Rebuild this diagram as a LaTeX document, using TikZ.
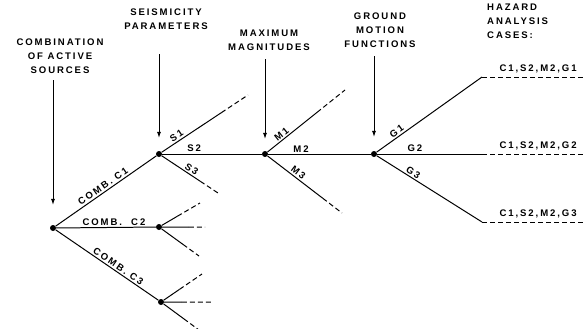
\documentclass[tikz,border=0pt]{standalone}
\usepackage{fontspec}
\newfontfamily\treefont[LetterSpace=20]{Liberation Sans}
\usetikzlibrary{arrows.meta, calc}

\begin{document}
\begin{tikzpicture}[
    x=1bp, y=-1bp,
    every node/.style={font=\treefont\bfseries\fontsize{9.6}{14}\selectfont},
    dot/.style={circle, fill, inner sep=0pt, minimum size=6bp},
    branch/.style={line width=1pt},
    open/.style={line width=1pt, dash pattern=on 5bp off 3bp},
    arrow/.style={-{Latex[length=6bp,width=4bp]}, line width=0.7pt},
    head/.style={align=center, inner sep=0pt},
    lbl/.style={sloped, above, inner sep=1.5bp}
]
\useasboundingbox (0,0) rectangle (584,328);

% headings
\node[head] (combhd) at (60,56) {COMBINATION\\OF ACTIVE\\SOURCES};
\node[head] (seishd) at (166,19) {SEISMICITY\\PARAMETERS};
\node[head] (maxhd) at (269,40) {MAXIMUM\\MAGNITUDES};
\node[head] (gmhd) at (380,30) {GROUND\\MOTION\\FUNCTIONS};
\node[head, align=left, anchor=west] (hazhd) at (487,21) {HAZARD\\ANALYSIS\\CASES:};

% branch points
\node[dot] (root) at (53,228) {};
\node[dot] (s) at (159,154) {};
\node[dot] (c2) at (159,227) {};
\node[dot] (c3) at (161,302) {};
\node[dot] (m) at (265,154) {};
\node[dot] (g) at (374,154) {};

% open ends
\coordinate (s1) at (248,95);
\coordinate (s3) at (218,193);
\coordinate (m1) at (345,90);
\coordinate (m3) at (342,213);
\coordinate (g1) at (482,77);
\coordinate (g2) at (482,154);
\coordinate (g3) at (482,222);
\coordinate (c2a) at (200,203);
\coordinate (c2b) at (205,227);
\coordinate (c2c) at (199,256);
\coordinate (c3a) at (202,274);
\coordinate (c3b) at (213,302);
\coordinate (c3c) at (199,330);

% arrows from the headings
\coordinate (combtl) at (53,80);
\coordinate (seistl) at (159,54);
\coordinate (maxtl) at (265,59);
\coordinate (gmtl) at (374,56);
\draw[arrow, shorten >=20bp] (combtl) -- (root);
\draw[arrow, shorten >=13bp] (seistl) -- (s);
\draw[arrow, shorten >=12bp] (maxtl) -- (m);
\draw[arrow, shorten >=14bp] (gmtl) -- (g);

% source combinations
\draw[branch] (root) -- node[lbl, pos=.5] {COMB.\ C1} (s);
\draw[branch] (root) -- node[lbl, pos=.58] {COMB.\ \ C2} (c2);
\draw[branch] (root) -- node[lbl, pos=.58] {COMB.\ C3} (c3);

% seismicity parameters
\draw[branch] (s) -- node[lbl, pos=.3] {S1} ($(s)!.7!(s1)$) coordinate (s1x);
\draw[open] (s1x) -- (s1);
\draw[branch] (s) -- node[lbl, pos=.32] {S2} (m);
\draw[branch] (s) -- node[lbl, pos=.7] {S3} ($(s)!.7!(s3)$) coordinate (s3x);
\draw[open] (s3x) -- (s3);

% maximum magnitudes
\draw[branch] (m) -- node[lbl, pos=.35] {M1} ($(m)!.65!(m1)$) coordinate (m1x);
\draw[open] (m1x) -- (m1);
\draw[branch] (m) -- node[lbl, pos=.32] {M2} (g);
\draw[branch] (m) -- node[lbl, pos=.5] {M3} ($(m)!.75!(m3)$) coordinate (m3x);
\draw[open] (m3x) -- (m3);

% ground motion functions and hazard cases
\draw[branch] (g) -- node[lbl, pos=.22] {G1} (g1);
\draw[branch] (g) -- node[lbl, pos=.36] {G2} (g2);
\draw[branch] (g) -- node[lbl, pos=.32] {G3} (g3);
\draw[open] (g1) -- node[above, pos=.55] {C1,S2,M2,G1} (g1 -| 584,0);
\draw[open] (g2) -- node[above, pos=.55] {C1,S2,M2,G2} (g2 -| 584,0);
\draw[open] (g3) -- node[above, pos=.55] {C1,S2,M2,G3} (g3 -| 584,0);

% other combinations, left open
\draw[branch] (c2) -- ($(c2)!.45!(c2a)$) coordinate (c2ax);
\draw[open] (c2ax) -- (c2a);
\draw[branch] (c2) -- ($(c2)!.65!(c2b)$) coordinate (c2bx);
\draw[open] (c2bx) -- (c2b);
\draw[branch] (c2) -- ($(c2)!.6!(c2c)$) coordinate (c2cx);
\draw[open] (c2cx) -- (c2c);
\draw[branch] (c3) -- ($(c3)!.45!(c3a)$) coordinate (c3ax);
\draw[open] (c3ax) -- (c3a);
\draw[branch] (c3) -- ($(c3)!.4!(c3b)$) coordinate (c3bx);
\draw[open] (c3bx) -- (c3b);
\draw[branch] (c3) -- ($(c3)!.6!(c3c)$) coordinate (c3cx);
\draw[open] (c3cx) -- (c3c);
\end{tikzpicture}
\end{document}
